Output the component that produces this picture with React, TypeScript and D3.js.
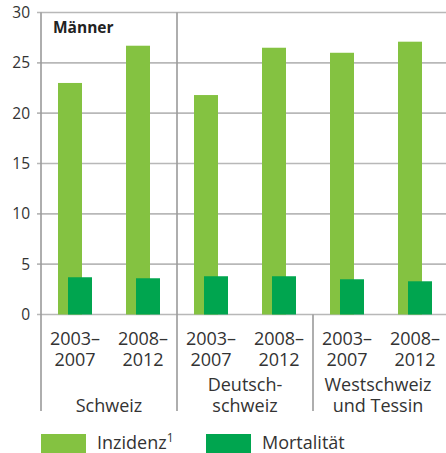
import React from "react";
import * as d3 from "d3";

const categories = ["S-2003", "S-2008", "D-2003", "D-2008", "W-2003", "W-2008"];
const periodLabels = [["2003–", "2007"], ["2008–", "2012"], ["2003–", "2007"], ["2008–", "2012"], ["2003–", "2007"], ["2008–", "2012"]];
const regions = [["Schweiz"], ["Deutsch-", "schweiz"], ["Westschweiz", "und Tessin"]];
const inzidenz = [23.0, 26.7, 21.8, 26.5, 26.0, 27.1];
const mortalitaet = [3.7, 3.6, 3.8, 3.8, 3.5, 3.3];
const yTicks = [0, 5, 10, 15, 20, 25, 30];
const seriesNames = ["Inzidenz", "Mortalität"];

const W = 446;
const H = 453;
const FONT = "'Open Sans', 'Noto Sans', sans-serif";
const C_INZ = "#84c241";
const C_MORT = "#00a54f";
const GRID = "#b8b8b8";
const AXIS = "#9a9a9a";
const TXT = "#333333";

export default function App() {
  const x = d3.scaleBand<string>().domain(categories).range([41, 449]).padding(0);
  const y = d3.scaleLinear().domain([0, 30]).range([314.5, 12.5]);
  const off = d3.scalePoint<string>().domain(seriesNames).range([-5, 5]);
  const barW = 24;
  const bw = x.bandwidth();
  const cx = (i: number) => (x(categories[i]) as number) + bw / 2;
  const groupStart = (g: number) => x(categories[g * 2]) as number;
  const groupEnd = (g: number) => Math.min((x(categories[g * 2 + 1]) as number) + bw, g === 2 ? 443 : 1e9);
  const labelBottom = 411;

  return (
    <svg width={W} height={H} style={{ position: "absolute", left: 0, top: 0, background: "#fff" }} fontFamily={FONT}>
      {yTicks.map((t) => (
        <line key={"g" + t} x1={37} x2={W} y1={y(t)} y2={y(t)} stroke={GRID} strokeWidth={1.6} />
      ))}
      {yTicks.map((t) => (
        <text key={"t" + t} x={30} y={y(t)} dy="0.36em" textAnchor="end" fontSize={15.5} fill={TXT}>
          {t}
        </text>
      ))}
      {inzidenz.map((v, i) => (
        <rect key={"i" + i} x={cx(i) + (off("Inzidenz") as number) - barW / 2} y={y(v)} width={barW} height={y(0) - y(v)} fill={C_INZ} />
      ))}
      {mortalitaet.map((v, i) => (
        <rect key={"m" + i} x={cx(i) + (off("Mortalität") as number) - barW / 2} y={y(v)} width={barW} height={y(0) - y(v)} fill={C_MORT} />
      ))}
      <line x1={41} x2={41} y1={y(30)} y2={labelBottom} stroke={AXIS} strokeWidth={1.6} />
      <line x1={177} x2={177} y1={y(30)} y2={labelBottom} stroke={AXIS} strokeWidth={1.6} />
      <line x1={313} x2={313} y1={y(0)} y2={labelBottom} stroke={AXIS} strokeWidth={1.6} />
      <text x={53} y={33} fontSize={15.5} fontWeight="bold" fill="#222">Männer</text>
      {periodLabels.map((lines, i) =>
        lines.map((l, k) => (
          <text key={"p" + i + "-" + k} x={cx(i)} y={344.5 + k * 21} textAnchor="middle" fontSize={18} fill={TXT}>
            {l}
          </text>
        ))
      )}
      {regions.map((lines, g) => {
        const mid = (groupStart(g) + groupEnd(g)) / 2;
        const startY = lines.length === 1 ? 412 : 391;
        return lines.map((l, k) => (
          <text key={"r" + g + "-" + k} x={mid} y={startY + k * 21} textAnchor="middle" fontSize={18} fill={TXT}>
            {l}
          </text>
        ));
      })}
      <rect x={41} y={434} width={45} height={20} fill={C_INZ} />
      <text x={97} y={449} fontSize={18} fill={TXT}>
        Inzidenz<tspan fontSize={12} dy={-7}>1</tspan>
      </text>
      <rect x={206} y={434} width={45} height={20} fill={C_MORT} />
      <text x={262} y={449} fontSize={18} fill={TXT}>Mortalität</text>
    </svg>
  );
}
